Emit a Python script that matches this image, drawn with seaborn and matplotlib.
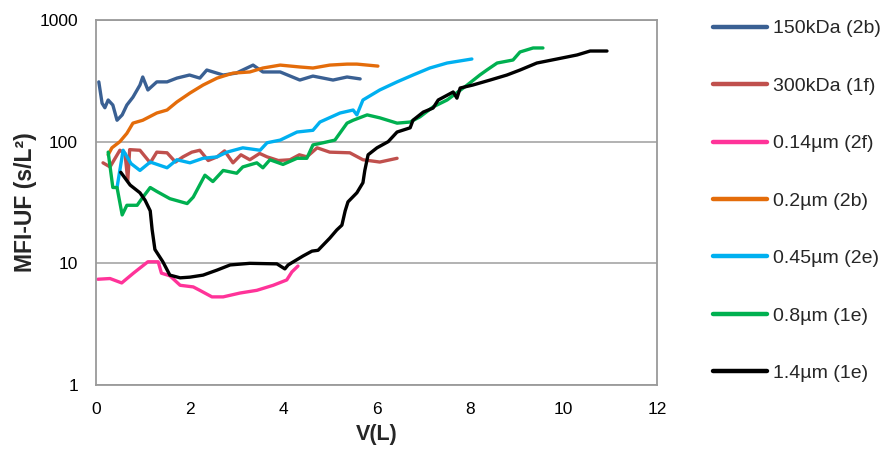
import numpy as np
import pandas as pd
import matplotlib
matplotlib.use("Agg")
import matplotlib.pyplot as plt
import seaborn as sns
from matplotlib.ticker import FixedLocator, NullLocator

# ---- data ----
labels = ["150kDa (2b)", "300kDa (1f)", "0.14\u00b5m (2f)", "0.2\u00b5m (2b)",
          "0.45\u00b5m (2e)", "0.8\u00b5m (1e)", "1.4\u00b5m (1e)"]
colors = ["#3A6093", "#C0504D", "#FF3399", "#E46C0A", "#00B0F0", "#00B050", "#000000"]

v_150 = [0.06, 0.13, 0.19, 0.26, 0.36, 0.45, 0.56, 0.66, 0.79, 0.94, 1.00, 1.11, 1.30, 1.52,
         1.73, 2.00, 2.22, 2.37, 2.72, 3.00, 3.36, 3.57, 3.94, 4.36, 4.64, 5.07, 5.37, 5.65]
m_150 = [310, 207, 190, 220, 200, 150, 166, 200, 232, 292, 340, 266, 310, 310,
         333, 353, 333, 388, 353, 366, 426, 374, 374, 321, 346, 321, 340, 328]

v_300 = [0.15, 0.30, 0.51, 0.62, 0.68, 0.72, 0.94, 1.16, 1.30, 1.52, 1.70, 1.86, 2.05, 2.22,
         2.40, 2.59, 2.75, 2.93, 3.10, 3.29, 3.50, 3.66, 3.90, 4.15, 4.35, 4.51, 4.73,
         5.00, 5.43, 5.71, 6.07, 6.44]
m_300 = [67, 62, 85, 80, 48, 86, 85, 67, 82, 81, 68, 75, 82, 85,
         70, 75, 84, 67, 78, 71, 80, 75, 70, 71, 78, 75, 89,
         82, 81, 71, 68, 73]

v_014 = [0.04, 0.30, 0.55, 0.80, 1.11, 1.33, 1.40, 1.58, 1.80, 2.08, 2.22, 2.48, 2.72,
         3.08, 3.44, 3.79, 4.08, 4.19, 4.32]
m_014 = [7.4, 7.5, 6.9, 8.3, 10.3, 10.3, 8.3, 7.9, 6.6, 6.4, 6.0, 5.3, 5.3,
         5.7, 6.0, 6.6, 7.3, 8.5, 9.5]

v_02 = [0.26, 0.34, 0.51, 0.66, 0.79, 1.00, 1.30, 1.52, 1.73, 2.01, 2.29, 2.59, 2.93,
        3.29, 3.57, 3.94, 4.36, 4.64, 5.00, 5.37, 5.58, 6.03]
m_02 = [78, 89, 100, 117, 142, 150, 172, 182, 212, 251, 292, 333, 366,
        374, 403, 426, 411, 403, 426, 434, 434, 418]

v_045 = [0.45, 0.58, 0.75, 0.94, 1.16, 1.52, 1.73, 2.01, 2.29, 2.59, 2.80, 3.14, 3.51,
         3.66, 3.94, 4.30, 4.64, 4.79, 5.22, 5.50, 5.58, 5.71, 6.07, 6.44, 6.78, 7.14,
         7.51, 8.04]
m_045 = [42, 85, 66, 58, 68, 61, 71, 67, 73, 75, 82, 89, 85,
         98, 103, 120, 124, 145, 172, 182, 166, 220, 266, 310, 353, 403,
         443, 478]

v_08 = [0.26, 0.36, 0.45, 0.56, 0.66, 0.88, 0.98, 1.16, 1.30, 1.58, 1.95, 2.08, 2.33,
        2.50, 2.72, 3.01, 3.14, 3.44, 3.57, 3.72, 4.00, 4.30, 4.51, 4.64, 4.86, 5.11,
        5.37, 5.50, 5.80, 6.07, 6.44, 6.72, 6.93, 7.21, 7.51, 7.94, 8.21, 8.36, 8.58,
        8.92, 9.07, 9.35, 9.56]
m_08 = [82, 42, 42, 25, 30, 30, 34, 42, 39, 34, 31, 35, 53,
        47, 58, 55, 62, 67, 61, 71, 65, 73, 73, 94, 98, 103,
        142, 150, 166, 157, 142, 145, 160, 193, 220, 292, 353, 388, 443,
        469, 546, 589, 589]

v_14 = [0.53, 0.73, 0.94, 1.05, 1.16, 1.20, 1.26, 1.43, 1.58, 1.80, 2.01, 2.29, 2.59,
        2.87, 3.29, 3.87, 4.04, 4.11, 4.43, 4.62, 4.75, 5.00, 5.15, 5.26, 5.33, 5.39,
        5.58, 5.71, 5.75, 5.82, 6.01, 6.25, 6.44, 6.72, 6.78, 7.00, 7.21, 7.32, 7.64,
        7.72, 7.79, 8.06, 8.43, 8.79, 9.07, 9.43, 9.86, 10.29, 10.57, 10.93]
m_14 = [56, 44, 38, 33, 27, 19, 13, 10.3, 8.0, 7.6, 7.7, 8.0, 8.8,
        9.7, 10.0, 9.9, 9.0, 9.7, 11.5, 12.6, 12.8, 16.1, 18.8, 20.6, 27, 32,
        38, 46, 58, 78, 89, 100, 120, 130, 150, 175, 189, 220, 256,
        228, 276, 292, 321, 353, 388, 443, 478, 516, 556, 556]

series_v = [v_150, v_300, v_014, v_02, v_045, v_08, v_14]
series_m = [m_150, m_300, m_014, m_02, m_045, m_08, m_14]

frames = []
for lab, vv, mm in zip(labels, series_v, series_m):
    frames.append(pd.DataFrame({"V": vv, "MFI": mm, "series": lab}))
df = pd.concat(frames, ignore_index=True)

# ---- plotting ----
sns.set_theme(style="white")
plt.rcParams["font.family"] = ["Liberation Sans", "DejaVu Sans"]

fig = plt.figure(figsize=(8.9, 4.53), dpi=100)
ax = fig.add_axes([96 / 890, 1 - 385 / 453, (657 - 96) / 890, (385 - 20) / 453])

sns.lineplot(data=df, x="V", y="MFI", hue="series", hue_order=labels,
             palette=dict(zip(labels, colors)), sort=False, estimator=None,
             linewidth=2.4, ax=ax, legend=True)

ax.set_yscale("log")
ax.set_xlim(0, 12)
ax.set_ylim(1, 1000)
ax.set_xticks([0, 2, 4, 6, 8, 10, 12])
ax.yaxis.set_major_locator(FixedLocator([1, 10, 100, 1000]))
ax.yaxis.set_minor_locator(NullLocator())
ax.set_yticklabels(["1", "10", "100", "1000"])
ax.tick_params(axis="both", length=0, labelsize=12.5, colors="#000000")
ax.tick_params(axis="x", pad=12)
ax.tick_params(axis="y", pad=13)

ax.grid(axis="y", which="major", color="#A6A6A6", linewidth=1.2)
ax.grid(axis="x", visible=False)
for sp in ax.spines.values():
    sp.set_color("#9A9A9A")
    sp.set_linewidth(1.3)

ax.set_xlabel("V(L)", fontsize=15.5, fontweight="bold", labelpad=5)
ax.set_ylabel("MFI-UF (s/L\u00b2)", fontsize=16.5, fontweight="bold", labelpad=2)

handles, labs = ax.get_legend_handles_labels()
ax.get_legend().remove()
leg = fig.legend(handles, labs, loc="upper left", bbox_to_anchor=(705 / 890, 1 - 12 / 453),
                 frameon=False, fontsize=14, handlelength=2.8, handletextpad=0.3,
                 labelspacing=2.05, borderaxespad=0)
for ln in leg.get_lines():
    ln.set_linewidth(3.2)

fig.savefig("out.png", dpi=100)
